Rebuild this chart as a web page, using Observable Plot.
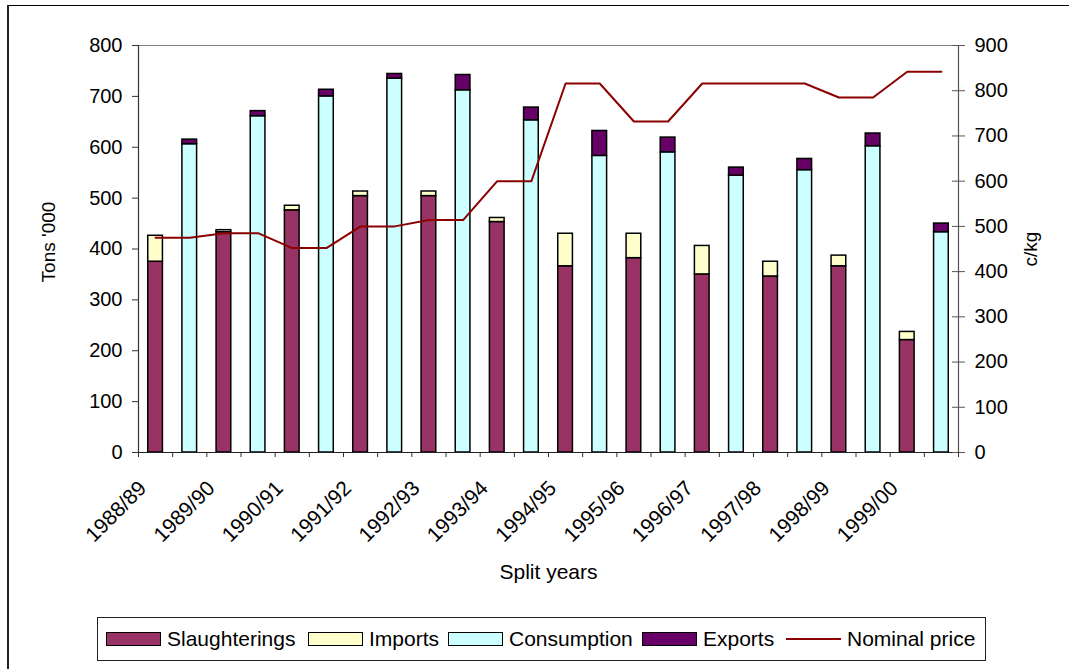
<!DOCTYPE html>
<html>
<head>
<meta charset="utf-8">
<script src="https://cdn.jsdelivr.net/npm/d3@7"></script>
<script src="https://cdn.jsdelivr.net/npm/@observablehq/plot@0.6"></script>
<style>
  html, body { margin: 0; padding: 0; background: #fff; overflow: hidden; }
  body { width: 1069px; height: 669px; position: relative; font-family: "Liberation Sans", Arial, sans-serif; color: #000; }
  #frame { position: absolute; left: 7px; top: 5px; width: 1100px; height: 700px; border-left: 2px solid #222; border-top: 1px solid #000; }
  #chart { position: absolute; left: 0; top: 0; }
  #legend { position: absolute; left: 97px; top: 617px; width: 889px; height: 44px; border: 1px solid #222; box-sizing: border-box; background: #fff; }
  .item { position: absolute; top: 0; height: 100%; display: flex; align-items: center; font-size: 21px; white-space: nowrap; }
  .sw { display: inline-block; width: 53px; height: 12px; border: 1.5px solid #000; margin-right: 6px; }
  .ln { display: inline-block; width: 55px; height: 2px; margin-right: 6px; }
</style>
</head>
<body>
<div id="frame"></div>
<div id="chart"></div>
<div id="legend"></div>
<script>
// Split years (marketing seasons)
const years = ["1988/89", "1989/90", "1990/91", "1991/92", "1992/93", "1993/94",
               "1994/95", "1995/96", "1996/97", "1997/98", "1998/99", "1999/00"];

// Supply side, tons '000
const slaughterings = [375, 433, 476, 504, 504, 453, 366, 382, 350, 346, 366, 221];
const imports       = [51, 4, 9, 9, 9, 8, 64, 48, 56, 29, 21, 16];

// Use side, tons '000
const consumption = [606, 661, 700, 735, 712, 653, 583, 590, 544, 555, 602, 433];
const exports     = [9, 10, 13, 9, 30, 25, 49, 29, 16, 22, 25, 17];

// Nominal producer price, c/kg, one value per bar slot (two slots per year)
const nominalPrice = [475, 475, 485, 485, 452, 452, 500, 500, 514, 514, 600, 600,
                      816, 816, 732, 732, 816, 816, 816, 816, 785, 785, 842, 842];

const seriesNames  = ["Slaughterings", "Imports", "Consumption", "Exports"];
const seriesColors = ["#993366", "#FFFFCC", "#CCFFFF", "#660066"];
const priceColor = "#8B0000";

const tonsTicks  = d3.range(0, 801, 100);
const priceTicks = d3.range(0, 901, 100);

// The price axis (0–900) shares the plot height with the tons axis (0–800)
const k = 800 / 900;

// Each year occupies two slots: supply bar, then use bar
const segments = [];
years.forEach((year, j) => {
  const s = 2 * j, u = 2 * j + 1;
  segments.push({slot: s, series: "Slaughterings", y1: 0, y2: slaughterings[j]});
  segments.push({slot: s, series: "Imports", y1: slaughterings[j], y2: slaughterings[j] + imports[j]});
  segments.push({slot: u, series: "Consumption", y1: 0, y2: consumption[j]});
  segments.push({slot: u, series: "Exports", y1: consumption[j], y2: consumption[j] + exports[j]});
});
const priceLine = nominalPrice.map((p, i) => ({slot: i + 0.5, price: p}));
const nSlots = nominalPrice.length;
const barHalf = 0.215;

const chart = Plot.plot({
  width: 1069,
  height: 600,
  marginLeft: 138,
  marginRight: 111,
  marginTop: 45,
  marginBottom: 148,
  style: {fontFamily: "'Liberation Sans', Arial, sans-serif", fontSize: "20px", color: "#000", background: "transparent", overflow: "visible"},
  x: {domain: [0, nSlots]},
  y: {domain: [0, 800]},
  color: {domain: seriesNames, range: seriesColors},
  marks: [
    Plot.ruleY([800], {stroke: "#808080", strokeWidth: 1}),
    Plot.rect(segments, {
      x1: d => d.slot + 0.5 - barHalf,
      x2: d => d.slot + 0.5 + barHalf,
      y1: "y1", y2: "y2",
      fill: "series", stroke: "#000", strokeWidth: 1.5
    }),
    Plot.line(priceLine, {x: "slot", y: d => d.price * k, stroke: priceColor, strokeWidth: 2}),
    Plot.ruleX([0], {stroke: "#333", strokeWidth: 1.2}),
    Plot.ruleX([nSlots], {stroke: "#555", strokeWidth: 1.2}),
    Plot.ruleY([0], {stroke: "#222", strokeWidth: 1.2}),
    Plot.axisY({ticks: tonsTicks, tickSize: 6, tickPadding: 10, label: null, stroke: "#333"}),
    Plot.axisY({anchor: "right", ticks: priceTicks.map(v => v * k), tickFormat: d => String(Math.round(d / k)),
                tickSize: 6, tickPadding: 10, label: null, stroke: "#555"}),
    Plot.tickY(priceTicks.map(v => v * k), {y: d => d, insetLeft: 814, stroke: "#555"}),
    Plot.axisX({ticks: d3.range(0, nSlots + 1), tickFormat: () => "", tickSize: 5, label: null, stroke: "#333"}),
    // season labels sit under the first (supply) bar of each year
    Plot.text(years, {x: (d, i) => 2 * i + 0.5, frameAnchor: "bottom", dx: -8, dy: 37, rotate: -45,
                      textAnchor: "end", lineAnchor: "bottom", fontSize: 21}),
    Plot.text(["Tons '000"], {frameAnchor: "left", dx: -90, dy: -7, rotate: -90,
                              textAnchor: "middle", lineAnchor: "middle", fontSize: 19}),
    Plot.text(["c/kg"], {frameAnchor: "right", dx: 72, rotate: -90,
                         textAnchor: "middle", lineAnchor: "middle", fontSize: 19}),
    Plot.text(["Split years"], {frameAnchor: "bottom", dy: 126, textAnchor: "middle", lineAnchor: "bottom", fontSize: 21})
  ]
});
document.getElementById("chart").appendChild(chart);

// Legend
const legend = document.getElementById("legend");
const itemLefts = [8, 210, 350, 544, 688];
seriesNames.forEach((name, i) => {
  const item = document.createElement("div");
  item.className = "item";
  item.style.left = itemLefts[i] + "px";
  const sw = document.createElement("span");
  sw.className = "sw";
  sw.style.background = seriesColors[i];
  item.appendChild(sw);
  item.appendChild(document.createTextNode(name));
  legend.appendChild(item);
});
const lineItem = document.createElement("div");
lineItem.className = "item";
lineItem.style.left = itemLefts[4] + "px";
const ln = document.createElement("span");
ln.className = "ln";
ln.style.background = priceColor;
lineItem.appendChild(ln);
lineItem.appendChild(document.createTextNode("Nominal price"));
legend.appendChild(lineItem);
</script>
</body>
</html>
